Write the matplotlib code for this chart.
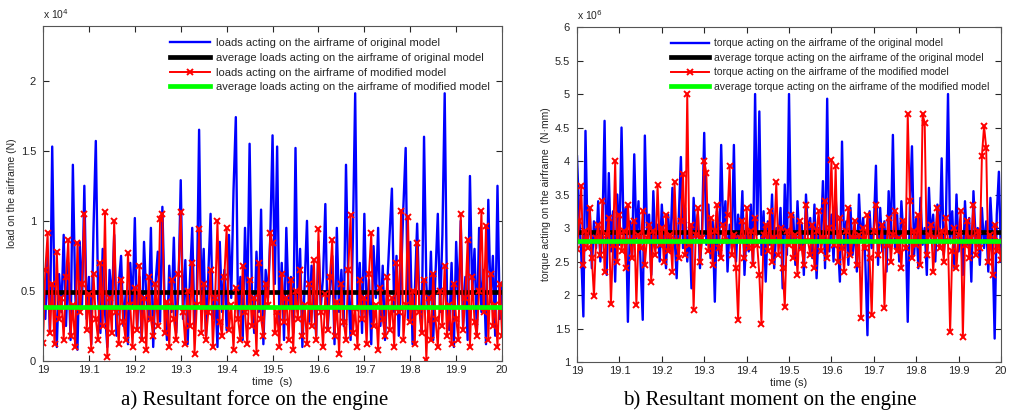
import matplotlib
matplotlib.use("Agg")
import matplotlib.pyplot as plt
import numpy as np

plt.rcParams["font.family"] = ["Liberation Sans", "DejaVu Sans"]

# time base: 19 s .. 20 s
T_START, T_END = 19.0, 20.0

# loads on the airframe, in units of 1e4 N
load_original = [
    0.55, 0.30, 0.75, 0.20, 1.53, 0.45, 0.10, 0.62, 0.35, 0.90,
    0.25, 0.70, 0.15, 1.40, 0.50, 0.08, 0.85, 0.40, 1.25, 0.30,
    0.60, 0.12, 0.95, 1.57, 0.45, 0.20, 0.80, 0.35, 0.10, 0.65,
    0.40, 0.90, 0.18, 0.55, 0.75, 0.25, 0.48, 0.12, 0.70, 0.38,
    1.02, 0.22, 0.60, 0.15, 0.85, 0.45, 0.30, 0.95, 0.10, 0.55,
    0.78, 0.28, 1.10, 0.40, 0.15, 0.68, 0.35, 0.88, 0.20, 0.50,
    1.29, 0.30, 0.72, 0.12, 0.58, 0.95, 0.25, 0.45, 1.65, 0.40,
    0.80, 0.18, 0.62, 1.05, 0.30, 0.50, 0.10, 0.85, 0.35, 0.65,
    0.22, 0.90, 0.45, 1.22, 1.74, 0.30, 0.60, 0.15, 0.95, 0.40,
    1.55, 0.50, 0.20, 0.78, 0.35, 1.08, 0.12, 0.65, 0.45, 0.88,
    1.61, 0.55, 1.53, 0.25, 0.70, 0.15, 0.95, 0.40, 0.60, 0.20,
    1.52, 0.35, 0.80, 0.10, 0.55, 1.00, 0.28, 0.68, 0.45, 0.18,
    0.85, 0.38, 0.60, 1.12, 0.22, 0.50, 0.75, 0.12, 0.95, 0.35,
    0.65, 0.25, 1.40, 0.55, 0.15, 0.88, 1.91, 0.40, 0.70, 0.20,
    1.05, 0.30, 0.58, 0.12, 0.82, 0.45, 0.95, 0.25, 0.68, 0.15,
    0.55, 0.90, 1.23, 0.35, 0.75, 0.18, 0.60, 1.10, 1.52, 0.30,
    0.85, 0.12, 0.50, 0.98, 0.40, 0.20, 1.60, 0.55, 0.28, 0.78,
    0.15, 0.62, 1.05, 0.35, 0.90, 1.91, 0.45, 0.22, 0.70, 0.10,
    0.85, 0.38, 1.00, 0.25, 0.60, 0.15, 1.32, 0.48, 0.80, 0.20,
    0.95, 0.35, 0.65, 0.12, 1.15, 0.42, 0.75, 0.18, 1.25, 0.30,
    0.55,
]
load_modified = [
    0.13, 0.65, 0.91, 0.20, 0.55, 0.12, 0.78, 0.30, 0.45, 0.15,
    0.60, 0.86, 0.18, 0.40, 0.10, 0.84, 0.35, 0.55, 1.05, 0.22,
    0.48, 0.08, 0.62, 0.30, 0.15, 0.70, 0.25, 1.06, 0.03, 0.45,
    0.20, 1.00, 0.35, 0.12, 0.58, 0.28, 0.15, 0.77, 0.40, 0.10,
    0.52, 0.22, 0.68, 0.15, 0.45, 0.08, 0.60, 0.30, 0.18, 0.55,
    0.25, 1.01, 1.05, 0.20, 0.42, 0.10, 0.58, 0.30, 0.15, 0.62,
    1.06, 0.35, 0.12, 0.50, 0.25, 0.70, 0.05, 0.40, 0.94, 0.20,
    0.55, 0.15, 0.35, 0.65, 0.10, 0.45, 1.00, 0.28, 0.18, 0.60,
    0.95, 0.22, 0.40, 0.08, 0.52, 0.30, 0.15, 0.68, 0.35, 0.12,
    0.58, 0.25, 0.45, 0.06, 0.70, 0.30, 0.18, 0.55, 0.40, 0.91,
    0.84, 0.20, 0.35, 0.10, 0.62, 0.28, 0.45, 0.15, 0.58, 0.08,
    0.50, 0.30, 0.65, 0.18, 0.40, 0.12, 0.55, 0.25, 0.72, 0.15,
    0.94, 0.35, 0.10, 0.48, 0.22, 0.60, 0.86, 0.18, 0.42, 0.05,
    0.55, 0.28, 0.15, 0.65, 1.04, 0.20, 0.38, 0.10, 0.58, 0.30,
    0.45, 0.12, 0.62, 0.91, 0.25, 0.40, 0.08, 0.52, 0.30, 0.18,
    0.60, 0.22, 0.45, 0.10, 0.70, 0.35, 1.07, 0.15, 0.40, 1.03,
    0.28, 0.50, 0.12, 0.84, 0.35, 0.20, 0.58, 0.01, 0.45, 0.15,
    0.62, 0.30, 0.10, 0.50, 0.25, 0.68, 0.18, 0.40, 0.12, 0.55,
    0.30, 0.15, 1.05, 0.22, 0.45, 0.86, 0.10, 0.60, 0.28, 0.18,
    0.50, 1.07, 0.35, 0.96, 0.15, 0.62, 0.25, 0.40, 0.10, 0.55,
    0.18,
]
load_avg_original = 0.495
load_avg_modified = 0.388

# torque on the airframe, in units of 1e6 N.mm
torque_original = [
    4.07, 3.20, 2.60, 1.68, 4.45, 2.80, 3.30, 2.40, 3.10, 2.70,
    3.40, 2.50, 3.00, 4.60, 2.30, 3.82, 2.65, 3.25, 2.20, 3.50,
    2.75, 4.50, 2.90, 3.30, 1.60, 3.10, 2.60, 4.10, 2.85, 3.40,
    2.45, 1.63, 4.38, 2.95, 3.20, 2.30, 3.55, 2.70, 3.05, 2.50,
    3.35, 2.80, 2.40, 3.20, 2.65, 3.60, 2.90, 2.25, 3.15, 4.06,
    2.70, 3.30, 2.50, 3.05, 2.10, 3.45, 2.85, 3.20, 2.40, 3.00,
    4.42, 2.75, 3.35, 2.55, 3.10, 1.90, 3.25, 2.60, 4.24, 2.90,
    3.40, 2.35, 3.05, 2.70, 4.24, 2.50, 3.20, 2.80, 3.55, 2.30,
    3.00, 2.65, 3.35, 2.45, 5.00, 2.90, 4.74, 2.60, 3.25, 2.20,
    3.10, 2.75, 3.50, 2.40, 3.00, 2.85, 3.30, 2.10, 3.65, 2.60,
    5.00, 2.80, 3.20, 2.45, 3.40, 2.70, 3.05, 2.30, 3.50, 2.90,
    3.15, 2.55, 3.35, 2.25, 3.00, 2.80, 3.70, 2.40, 4.93, 2.65,
    3.20, 2.50, 3.45, 2.85, 2.20, 4.29, 2.70, 3.10, 2.45, 3.30,
    2.60, 3.05, 2.35, 3.50, 2.80, 3.15, 2.50, 1.40, 3.25, 2.70,
    3.00, 3.93, 2.45, 3.30, 2.65, 3.10, 2.35, 3.55, 2.80, 4.39,
    2.70, 3.20, 2.50, 3.40, 2.85, 3.05, 1.60, 3.30, 4.22, 2.60,
    3.15, 2.40, 3.45, 2.75, 3.00, 2.30, 3.60, 2.85, 3.20, 2.50,
    3.35, 2.70, 4.04, 2.60, 3.10, 5.00, 2.80, 3.25, 2.40, 3.50,
    2.65, 3.05, 2.30, 3.40, 2.75, 3.15, 2.20, 3.55, 2.85, 3.00,
    2.45, 3.30, 2.70, 3.10, 2.35, 3.45, 2.80, 1.35, 3.20, 3.84,
    2.50,
]
torque_modified = [
    2.68, 3.10, 3.62, 2.45, 2.95, 2.70, 3.30, 2.55, 1.98, 2.85,
    3.05, 2.60, 3.40, 2.35, 2.90, 3.15, 1.87, 2.75, 4.00, 2.50,
    3.20, 2.65, 2.95, 2.40, 3.35, 2.80, 2.55, 3.10, 1.85, 2.90,
    2.70, 3.25, 2.45, 2.85, 3.05, 2.20, 2.95, 2.60, 3.64, 2.75,
    3.00, 2.50, 3.20, 2.65, 2.90, 2.35, 3.68, 2.80, 2.55, 3.10,
    3.80, 2.60, 5.00, 2.75, 3.05, 1.78, 2.90, 3.30, 2.50, 2.85,
    4.00, 3.82, 2.65, 3.15, 2.45, 2.95, 3.35, 2.70, 2.55, 3.05,
    2.80, 3.20, 3.92, 2.60, 2.90, 2.40, 1.63, 2.85, 3.10, 2.55,
    3.30, 2.70, 2.95, 2.45, 3.15, 2.75, 2.30, 1.57, 2.90, 3.05,
    2.65, 3.25, 2.50, 2.85, 3.68, 2.60, 3.00, 2.40, 1.82, 2.95,
    2.75, 3.20, 2.55, 2.90, 2.30, 3.10, 2.70, 2.45, 3.35, 2.80,
    2.60, 3.05, 2.40, 2.95, 3.25, 2.65, 2.85, 3.40, 2.55, 3.00,
    4.02, 2.75, 3.92, 2.50, 3.15, 2.70, 2.35, 2.95, 3.30, 2.60,
    2.85, 3.10, 2.45, 2.90, 1.65, 3.00, 2.70, 3.20, 2.55, 1.70,
    2.95, 3.35, 2.60, 2.80, 3.05, 1.80, 2.75, 3.15, 2.50, 2.90,
    3.25, 2.65, 2.85, 2.40, 3.10, 2.70, 4.70, 3.40, 2.55, 2.95,
    2.75, 3.20, 2.45, 4.70, 4.57, 2.60, 2.90, 3.05, 2.35, 2.85,
    3.30, 2.70, 2.95, 2.50, 3.15, 2.80, 1.45, 2.65, 3.00, 2.40,
    2.90, 3.25, 1.37, 2.75, 3.10, 2.55, 2.85, 3.35, 2.60, 2.95,
    2.70, 4.08, 4.52, 4.20, 2.50, 2.90, 2.30, 3.05, 2.65, 2.80,
    2.52,
]
torque_avg_original = 2.945
torque_avg_modified = 2.81

x_ticks = [19.0, 19.1, 19.2, 19.3, 19.4, 19.5, 19.6, 19.7, 19.8, 19.9, 20.0]
load_ticks = [0, 0.5, 1, 1.5, 2]
torque_ticks = [1, 1.5, 2, 2.5, 3, 3.5, 4, 4.5, 5, 5.5, 6]

INK = "#262626"


def style_axes(ax):
    for sp in ax.spines.values():
        sp.set_color("#555555")
        sp.set_linewidth(0.8)
    ax.tick_params(direction="in", top=True, right=True, length=4,
                   labelsize=8, colors=INK)
    ax.tick_params(axis="y", pad=5)
    ax.tick_params(axis="x", pad=3)
    ax.set_xlim(T_START, T_END)
    ax.set_xticks(x_ticks)
    ax.set_xticklabels([f"{v:g}" for v in x_ticks])


def draw_panel(ax, orig, mod, avg_o, avg_m, labels, fs):
    t = np.linspace(T_START, T_END, len(orig))
    ax.plot(t, orig, color="#0000ff", linewidth=1.7, label=labels[0])
    ax.plot([T_START, T_END], [avg_o, avg_o], color="black", linewidth=3.4, label=labels[1])
    ax.plot(t, mod, color="#ff0000", linewidth=1.4, marker="x", markersize=3.8,
            markeredgewidth=1.4, label=labels[2])
    ax.plot([T_START, T_END], [avg_m, avg_m], color="#00ff00", linewidth=3.4, label=labels[3])
    leg = ax.legend(loc="upper right", frameon=False, fontsize=fs, handlelength=3.6,
                    handletextpad=0.5, labelspacing=0.42, borderaxespad=0.7)
    for txt in leg.get_texts():
        txt.set_color(INK)


fig = plt.figure(figsize=(10.10, 4.19), dpi=100)
ax1 = fig.add_axes([0.0426, 0.1384, 0.4545, 0.7995])
ax2 = fig.add_axes([0.5713, 0.1360, 0.4198, 0.7995])

draw_panel(ax1, load_original, load_modified, load_avg_original, load_avg_modified,
           ["loads acting on the airframe of original model",
            "average loads acting on the airframe of original model",
            "loads acting on the airframe of modified model",
            "average loads acting on the airframe of modified model"], 8)
style_axes(ax1)
ax1.set_ylim(0, 2.39)
ax1.set_yticks(load_ticks)
ax1.set_yticklabels([f"{v:g}" for v in load_ticks])
ax1.set_ylabel("load on the airframe (N)", fontsize=7.5, color=INK, labelpad=3)
ax1.set_xlabel("time  (s)", fontsize=8, color=INK, labelpad=1)
ax1.text(0.0, 1.015, r"x 10$^4$", transform=ax1.transAxes, fontsize=7.5, color=INK,
         ha="left", va="bottom")

draw_panel(ax2, torque_original, torque_modified, torque_avg_original, torque_avg_modified,
           ["torque acting on the airframe of the original model",
            "average torque acting on the airframe of the original model",
            "torque acting on the airframe of the modified model",
            "average torque acting on the airframe of the modified model"], 7.5)
style_axes(ax2)
ax2.set_ylim(1, 6)
ax2.set_yticks(torque_ticks)
ax2.set_yticklabels([f"{v:g}" for v in torque_ticks])
ax2.set_ylabel("torque acting on the airframe  (N\u00b7mm)", fontsize=7.5, color=INK, labelpad=3)
ax2.set_xlabel("time (s)", fontsize=8, color=INK, labelpad=1)
ax2.text(0.0, 1.015, r"x 10$^6$", transform=ax2.transAxes, fontsize=7.5, color=INK,
         ha="left", va="bottom")

fig.text(0.252, 0.045, "a) Resultant force on the engine", fontsize=15,
         family=["Liberation Serif", "DejaVu Serif"], ha="center", va="center")
fig.text(0.762, 0.045, "b) Resultant moment on the engine", fontsize=15,
         family=["Liberation Serif", "DejaVu Serif"], ha="center", va="center")

fig.savefig("out.png", dpi=100, facecolor="white")
